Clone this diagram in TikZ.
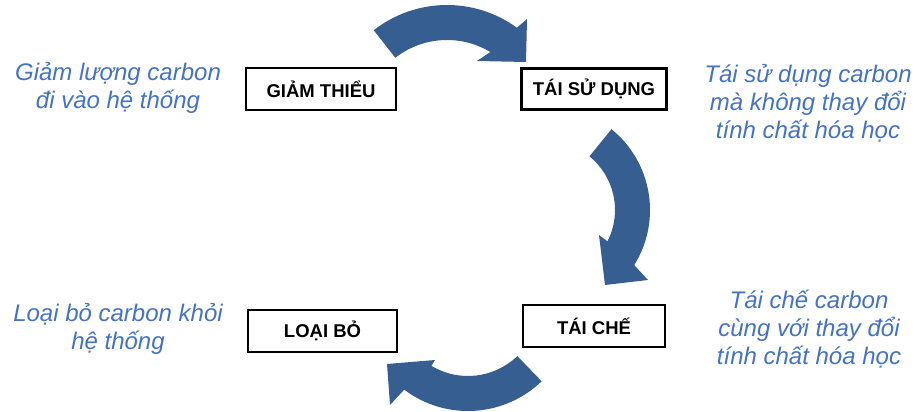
\documentclass[tikz,border=0pt]{standalone}
\usepackage{fontspec}
\setmainfont{Liberation Sans}
\usetikzlibrary{calc}
\definecolor{arrowblue}{HTML}{375E91}
\definecolor{textblue}{HTML}{4472C4}
\begin{document}
\begin{tikzpicture}[x=1pt,y=-1pt,
  stagebox/.style={draw=black, line width=2.5pt, fill=white, inner sep=0pt,
    font=\bfseries\fontsize{18.5}{20}\selectfont},
  note/.style={align=center, text=textblue, inner sep=0pt,
    font=\itshape\fontsize{24}{28}\selectfont},
  bigarrow/.style={fill=arrowblue}]
\useasboundingbox (0,0) rectangle (915,412);

% boxes
\node[stagebox, minimum width=150pt, minimum height=42pt] (giam) at (321,89) {GIẢM THIỂU};
\node[stagebox, minimum width=145pt, minimum height=41pt] (taisd) at (594,89) {TÁI SỬ DỤNG};
\node[stagebox, minimum width=142pt, minimum height=42pt] (taiche) at (594,326) {TÁI CHẾ};
\node[stagebox, minimum width=149pt, minimum height=42pt] (loai) at (322.5,331) {LOẠI BỎ};

% notes
\node[note] (n1) at (118,88) {Giảm lượng carbon\\đi vào hệ thống};
\node[note] (n2) at (808,103) {Tái sử dụng carbon\\mà không thay đổi\\tính chất hóa học};
\node[note] (n3) at (118,329) {Loại bỏ carbon khỏi\\hệ thống};
\node[note] (n4) at (809,329) {Tái chế carbon\\cùng với thay đổi\\tính chất hóa học};

% curved arrows
\coordinate (c1) at (447,124);
\coordinate (c2) at (546,210);
\coordinate (c3) at (468,305);

\fill[bigarrow] ($(c1)+(-128:119)$) arc[start angle=-128, end angle=-54, radius=119]
  -- (527,19) -- (526,62) -- (477,61) -- ($(c1)+(-59:84)$)
  arc[start angle=-59, end angle=-128, radius=84] -- cycle;

\fill[bigarrow] ($(c2)+(-51:104)$) arc[start angle=-51, end angle=32, radius=104]
  -- (648,280) -- (605,285) -- (599,235) -- ($(c2)+(27:69)$)
  arc[start angle=27, end angle=-51, radius=69] -- cycle;

\fill[bigarrow] ($(c3)+(46:106)$) arc[start angle=46, end angle=127, radius=106]
  -- (390,405) -- (387,364) -- (435,360) -- ($(c3)+(121:71)$)
  arc[start angle=121, end angle=46, radius=71] -- cycle;
\end{tikzpicture}
\end{document}
